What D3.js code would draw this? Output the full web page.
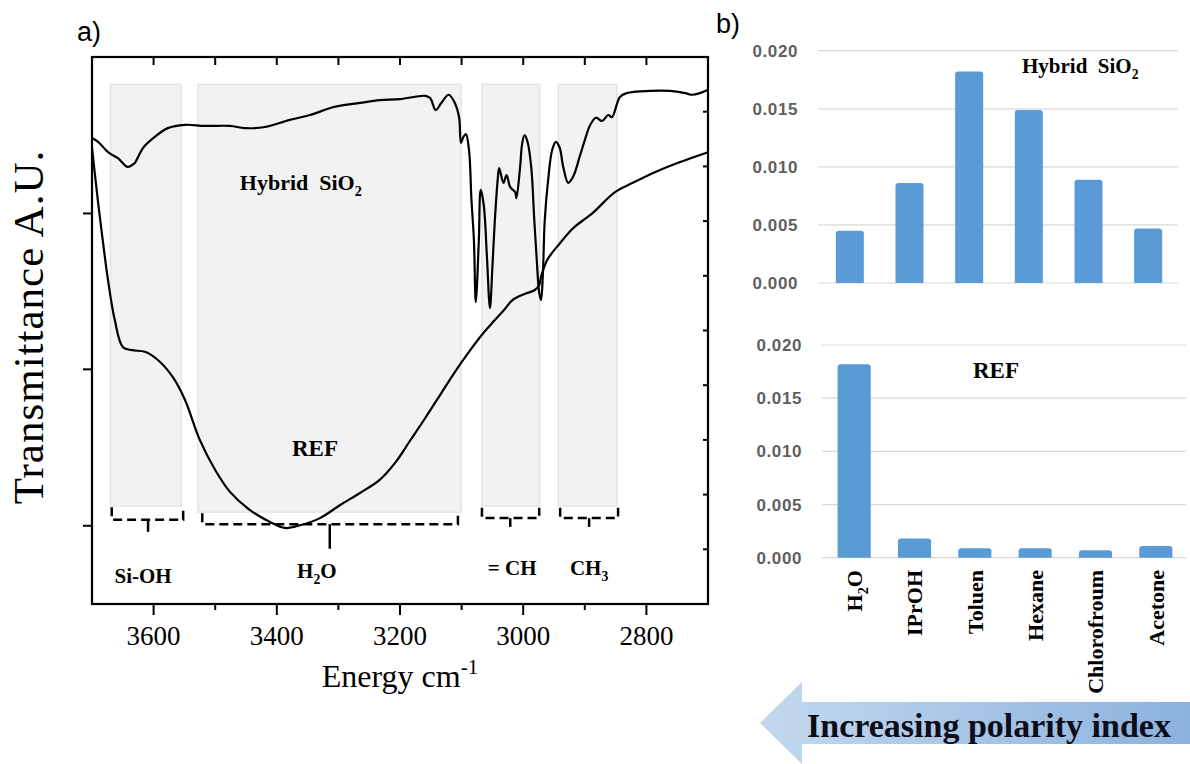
<!DOCTYPE html>
<html>
<head>
<meta charset="utf-8">
<script src="https://cdn.jsdelivr.net/npm/d3@7"></script>
<style>
  body { margin: 0; background: #fff; }
  svg { display: block; }
</style>
</head>
<body>
<svg id="fig" width="1190" height="764"></svg>
<script>
// ---- panel a: FTIR spectra [wavenumber, transmittance A.U.]
const hybridSpectrum = [
  [3700, 85.2], [3690, 84.5], [3674, 82.6], [3658, 81.5], [3642, 79.9], [3633, 80.4],
  [3630, 80.7], [3617, 83.4], [3598, 85.4], [3577, 87.0], [3549, 87.6], [3517, 87.4],
  [3476, 87.4], [3452, 87.0], [3419, 87.2], [3379, 88.5], [3346, 89.4], [3306, 90.9],
  [3265, 91.6], [3233, 92.1], [3200, 92.3], [3159, 92.9], [3151, 92.5], [3142, 90.3],
  [3133, 91.6], [3121, 93.1], [3111, 91.6], [3104, 88.9], [3101, 84.3], [3097, 85.4],
  [3093, 85.9], [3088, 83.0], [3084, 73.9], [3080, 66.5], [3077, 55.2], [3072, 66.5],
  [3069, 75.7], [3064, 72.9], [3059, 63.8], [3054, 54.1], [3050, 61.6], [3046, 70.2],
  [3041, 78.1], [3039, 79.7], [3032, 77.0], [3027, 78.4], [3021, 76.2], [3013, 75.3],
  [3011, 74.2], [3005, 79.9], [3002, 83.9], [2998, 85.7], [2993, 84.5], [2987, 79.9],
  [2982, 70.2], [2978, 62.9], [2974, 56.9], [2971, 55.6], [2968, 60.5], [2965, 70.2],
  [2959, 78.1], [2953, 83.0], [2947, 84.5], [2941, 83.5], [2935, 79.9], [2927, 77.0],
  [2919, 78.1], [2908, 81.9], [2900, 84.8], [2892, 87.4], [2882, 88.9], [2872, 88.3],
  [2862, 89.4], [2856, 89.0], [2843, 92.7], [2832, 93.4], [2794, 93.8], [2762, 93.8],
  [2737, 93.4], [2726, 93.1], [2713, 93.4], [2700, 94.0]
];
const refSpectrum = [
  [3700, 83.4], [3690, 73.3], [3682, 66.0], [3674, 59.2], [3663, 51.9], [3650, 47.0],
  [3635, 46.4], [3614, 46.1], [3593, 44.6], [3569, 41.5], [3549, 37.3], [3525, 30.0],
  [3500, 24.5], [3476, 20.5], [3444, 17.2], [3411, 15.0], [3387, 13.9], [3362, 14.4],
  [3330, 15.7], [3297, 18.1], [3265, 20.3], [3233, 22.7], [3208, 25.8], [3184, 29.8],
  [3159, 34.0], [3135, 38.2], [3111, 42.4], [3086, 46.4], [3065, 49.5], [3046, 51.9],
  [3030, 53.9], [3017, 55.6], [2997, 56.7], [2981, 57.4], [2974, 58.3], [2971, 59.8],
  [2961, 62.9], [2940, 66.0], [2919, 68.7], [2887, 71.5], [2851, 75.3], [2822, 77.0],
  [2789, 78.8], [2757, 80.3], [2700, 82.6]
];
// shaded regions [from, to, bottom]
const bands = [[3670, 3555, 17.9], [3528, 3101, 16.8], [3067, 2973, 17.9], [2943, 2848, 17.9]];
const bandTop = 95;
// dashed brackets [from, to, centre, top, line, tickEnd]
const brackets = [
  [3668, 3552, 3609, 17.7, 15.4, 13.2],
  [3521, 3106, 3314, 16.6, 14.6, 10.1],
  [3067, 2974, 3021, 17.6, 15.7, 14.1],
  [2940, 2846, 2893, 17.6, 15.7, 14.1]
];
const groupLabels = [["Si-OH", 3617, 3.8], ["H_2O", 3335, 4.75], ["= CH", 3018, 5.3], ["CH_3", 2893, 5.3]];
const xMajorTicks = [3600, 3400, 3200, 3000, 2800];
const xMinorTicks = [3500, 3300, 3100, 2900];
const leftTicks = [14.3, 42.9, 71.4];
const rightTicks = [10, 20, 30, 40, 50, 60, 70, 80, 90];

// ---- panel b: uptake per solvent
const solvents = ["H_2O", "IPrOH", "Toluen", "Hexane", "Chlorofroum", "Acetone"];
const hybridUptake = [0.0045, 0.0086, 0.0182, 0.0149, 0.0089, 0.0047];
const refUptake = [0.0182, 0.0018, 0.0009, 0.0009, 0.0007, 0.0011];
const uptakeTicks = [0, 0.005, 0.010, 0.015, 0.020];

const serif = "'Liberation Serif', 'Times New Roman', serif";
const sans = "'Liberation Sans', Arial, sans-serif";
const svg = d3.select("#fig");

// write text with "_x" subscripts
function chem(sel, str, size) {
  let shifted = false;
  str.split(/(_\w)/).forEach(p => {
    if (!p) return;
    if (p[0] === "_") {
      sel.append("tspan").attr("dy", size * 0.28).attr("font-size", size * 0.65).text(p[1]);
      shifted = true;
    } else {
      sel.append("tspan").attr("dy", shifted ? -size * 0.28 : null).text(p);
      shifted = false;
    }
  });
  return sel;
}

// ================= panel a =================
const x = d3.scaleLinear().domain([3700, 2700]).range([92, 708]);
const y = d3.scaleLinear().domain([0, 100]).range([604, 57]);

const ga = svg.append("g");

ga.selectAll("rect.band")
  .data(bands)
  .enter().append("rect")
  .attr("class", "band")
  .attr("x", d => x(d[0]))
  .attr("y", y(bandTop))
  .attr("width", d => x(d[1]) - x(d[0]))
  .attr("height", d => y(d[2]) - y(bandTop))
  .attr("fill", "#f2f2f2")
  .attr("stroke", "#e4e4e4")
  .attr("stroke-width", 1.5);

brackets.forEach(b => {
  ga.append("path")
    .attr("d", `M${x(b[0])},${y(b[3])}V${y(b[4])}H${x(b[1])}V${y(b[3])}`)
    .attr("fill", "none")
    .attr("stroke", "#000")
    .attr("stroke-width", 2.5)
    .attr("stroke-dasharray", "9,5");
  ga.append("line")
    .attr("x1", x(b[2])).attr("x2", x(b[2]))
    .attr("y1", y(b[4])).attr("y2", y(b[5]))
    .attr("stroke", "#000")
    .attr("stroke-width", 2.5);
});

const line = d3.line()
  .x(d => x(d[0]))
  .y(d => y(d[1]))
  .curve(d3.curveCatmullRom.alpha(0.5));

[hybridSpectrum, refSpectrum].forEach(s => {
  ga.append("path")
    .attr("d", line(s))
    .attr("fill", "none")
    .attr("stroke", "#000")
    .attr("stroke-width", 2.2)
    .attr("stroke-linejoin", "round");
});

// frame and ticks
ga.append("rect")
  .attr("x", x(3700)).attr("y", y(100))
  .attr("width", x(2700) - x(3700)).attr("height", y(0) - y(100))
  .attr("fill", "none").attr("stroke", "#000").attr("stroke-width", 2.2);

const tickLine = (x1, y1, x2, y2) => ga.append("line")
  .attr("x1", x1).attr("y1", y1).attr("x2", x2).attr("y2", y2)
  .attr("stroke", "#000").attr("stroke-width", 2);

xMajorTicks.forEach(t => tickLine(x(t), y(0), x(t), y(0) + 11));
xMinorTicks.forEach(t => tickLine(x(t), y(0), x(t), y(0) + 6));
xMajorTicks.concat(xMinorTicks).forEach(t => tickLine(x(t), y(100), x(t), y(100) + 8));
leftTicks.forEach(t => tickLine(x(3700) - 9, y(t), x(3700), y(t)));
rightTicks.forEach(t => tickLine(x(2700) - 5, y(t), x(2700), y(t)));

ga.selectAll("text.xtick")
  .data(xMajorTicks)
  .enter().append("text")
  .attr("class", "xtick")
  .attr("x", d => x(d))
  .attr("y", 645)
  .attr("text-anchor", "middle")
  .attr("font-family", serif)
  .attr("font-size", 27)
  .text(d => d);

ga.append("text")
  .attr("transform", "translate(43,327) rotate(-90)")
  .attr("text-anchor", "middle")
  .attr("font-family", serif)
  .attr("font-size", 43)
  .attr("letter-spacing", 1)
  .text("Transmittance A.U.");

const xt = ga.append("text")
  .attr("x", 400).attr("y", 687)
  .attr("text-anchor", "middle")
  .attr("font-family", serif)
  .attr("font-size", 32);
xt.append("tspan").text("Energy cm");
xt.append("tspan").attr("dy", -13).attr("font-size", 21).text("-1");

groupLabels.forEach(l => {
  chem(ga.append("text")
    .attr("x", x(l[1])).attr("y", y(l[2]))
    .attr("text-anchor", "middle")
    .attr("font-family", serif)
    .attr("font-weight", "bold")
    .attr("font-size", 21), l[0], 21);
});

chem(ga.append("text")
  .attr("x", x(3361)).attr("y", y(75.7))
  .attr("text-anchor", "middle")
  .attr("font-family", serif).attr("font-weight", "bold").attr("font-size", 22),
  "Hybrid\u00a0\u00a0SiO_2", 22);

ga.append("text")
  .attr("x", x(3338)).attr("y", y(27.1))
  .attr("text-anchor", "middle")
  .attr("font-family", serif).attr("font-weight", "bold").attr("font-size", 23)
  .text("REF");

ga.append("text")
  .attr("x", 77).attr("y", 41)
  .attr("font-family", sans).attr("font-size", 27)
  .text("a)");

// ================= panel b =================
svg.append("text")
  .attr("x", 716).attr("y", 33)
  .attr("font-family", sans).attr("font-size", 27)
  .text("b)");

function topRounded(x0, y0, w, h, r) {
  r = Math.min(r, h, w / 2);
  return `M${x0},${y0 + h}V${y0 + r}Q${x0},${y0} ${x0 + r},${y0}H${x0 + w - r}` +
    `Q${x0 + w},${y0} ${x0 + w},${y0 + r}V${y0 + h}Z`;
}

function barPanel(values, yRange, xRange, inner, labelX) {
  const g = svg.append("g");
  const xb = d3.scaleBand().domain(solvents).range(xRange)
    .paddingInner(inner).paddingOuter(inner / 2);
  const yb = d3.scaleLinear().domain([0, 0.02]).range(yRange);

  g.selectAll("line.grid")
    .data(uptakeTicks)
    .enter().append("line")
    .attr("class", "grid")
    .attr("x1", xRange[0] - 2).attr("x2", xRange[1])
    .attr("y1", d => yb(d)).attr("y2", d => yb(d))
    .attr("stroke", "#d9d9d9").attr("stroke-width", 1.2);

  g.selectAll("text.ytick")
    .data(uptakeTicks)
    .enter().append("text")
    .attr("class", "ytick")
    .attr("x", labelX).attr("y", d => yb(d) + 6)
    .attr("text-anchor", "end")
    .attr("font-family", sans).attr("font-weight", "bold")
    .attr("font-size", 17).attr("letter-spacing", 0.6)
    .attr("fill", "#5f5f5f")
    .text(d => d.toFixed(3));

  g.selectAll("path.bar")
    .data(values)
    .enter().append("path")
    .attr("class", "bar")
    .attr("d", (d, i) => topRounded(xb(solvents[i]), yb(d), xb.bandwidth(), yb(0) - yb(d), 3))
    .attr("fill", "#5b9bd5");
  return xb;
}

barPanel(hybridUptake, [283, 50.7], [820, 1178], 0.53, 798);
const xRef = barPanel(refUptake, [557.7, 345], [824, 1186], 0.45, 802);

chem(svg.append("text")
  .attr("x", 1022).attr("y", 73)
  .attr("font-family", serif).attr("font-weight", "bold").attr("font-size", 21),
  "Hybrid\u00a0\u00a0SiO_2", 21);

svg.append("text")
  .attr("x", 996).attr("y", 378)
  .attr("text-anchor", "middle")
  .attr("font-family", serif).attr("font-weight", "bold").attr("font-size", 23)
  .text("REF");

solvents.forEach(s => {
  const cx = xRef(s) + xRef.bandwidth() / 2;
  chem(svg.append("text")
    .attr("transform", `translate(${cx},570) rotate(-90)`)
    .attr("text-anchor", "end")
    .attr("dy", "0.35em")
    .attr("font-family", serif).attr("font-weight", "bold").attr("font-size", 22),
    s, 22);
});

// polarity arrow
const grad = svg.append("defs").append("linearGradient")
  .attr("id", "arrowGrad").attr("x1", "0%").attr("x2", "100%");
grad.append("stop").attr("offset", "0%").attr("stop-color", "#c3d8ef");
grad.append("stop").attr("offset", "100%").attr("stop-color", "#8bb2dd");

svg.append("path")
  .attr("d", "M760,723L802,682V702H1190V744H802V764Z")
  .attr("fill", "url(#arrowGrad)");

svg.append("text")
  .attr("x", 807).attr("y", 737)
  .attr("font-family", serif).attr("font-weight", "bold").attr("font-size", 34)
  .attr("fill", "#0d0d1a")
  .text("Increasing polarity index");
</script>
</body>
</html>
